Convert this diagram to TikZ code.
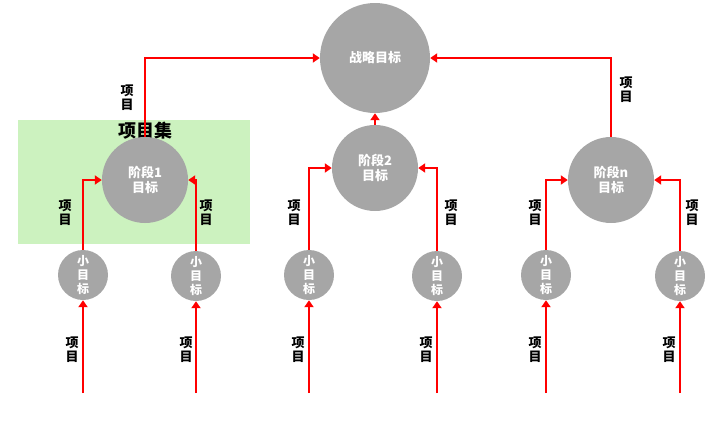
\documentclass[tikz,border=0pt]{standalone}
\usepackage{fontspec}
\setmainfont{Noto Sans CJK SC}
\usetikzlibrary{arrows.meta}
\tikzset{
  goal/.style={circle, fill=black!35, text=white, font=\bfseries\fontsize{13}{15}\selectfont, align=center, inner sep=0pt},
  small/.style={goal, minimum size=50, font=\bfseries\fontsize{12}{14}\selectfont},
  link/.style={red, line width=2.6pt, -{Triangle[length=7pt,width=9pt]}},
  lbl/.style={font=\bfseries\fontsize{13}{14}\selectfont, align=center, inner sep=0pt}
}
\begin{document}
\begin{tikzpicture}[x=1pt,y=-1pt]
\useasboundingbox (0,0) rectangle (716,421);

\fill[green!60!olive!25] (18,120) rectangle (250,244);
\node[font=\bfseries\fontsize{18}{20}\selectfont] (set) at (145,131) {项目集};

\node[goal, minimum size=110] (top) at (375,58) {战略目标};
\node[goal, minimum size=86] (s1) at (145,180) {阶段1\\目标};
\node[goal, minimum size=86] (s2) at (375,168) {阶段2\\目标};
\node[goal, minimum size=86] (sn) at (611,180) {阶段n\\目标};

\node[small] (a1) at (83,275) {小\\目\\标};
\node[small] (a2) at (196,276) {小\\目\\标};
\node[small] (b1) at (309,275) {小\\目\\标};
\node[small] (b2) at (437,276) {小\\目\\标};
\node[small] (c1) at (546,275) {小\\目\\标};
\node[small] (c2) at (680,276) {小\\目\\标};

% upper links
\draw[link] (s1.north) |- (top.west);
\draw[link] (sn.north) |- (top.east);
\draw[link] (s2.north) -- (top.south);
\node[lbl] (l1) at (127,98) {项\\目};
\node[lbl] (l2) at (626,90) {项\\目};

% stage links
\foreach \s/\l/\r/\xl/\xr in {s1/a1/a2/65/206, s2/b1/b2/294/451, sn/c1/c2/535/692}{
  \draw[link] (\l.north) |- (\s.west);
  \draw[link] (\r.north) |- (\s.east);
  \node[lbl] at (\xl,213) {项\\目};
  \node[lbl] at (\xr,213) {项\\目};
}

% bottom links
\foreach \n/\x/\lx in {a1/83/72, a2/196/186, b1/309/298, b2/437/426, c1/546/535, c2/680/669}{
  \coordinate (\n-in) at (\x,393);
  \draw[link] (\n-in) -- (\n.south);
  \node[lbl] at (\lx,350) {项\\目};
}
\end{tikzpicture}
\end{document}
